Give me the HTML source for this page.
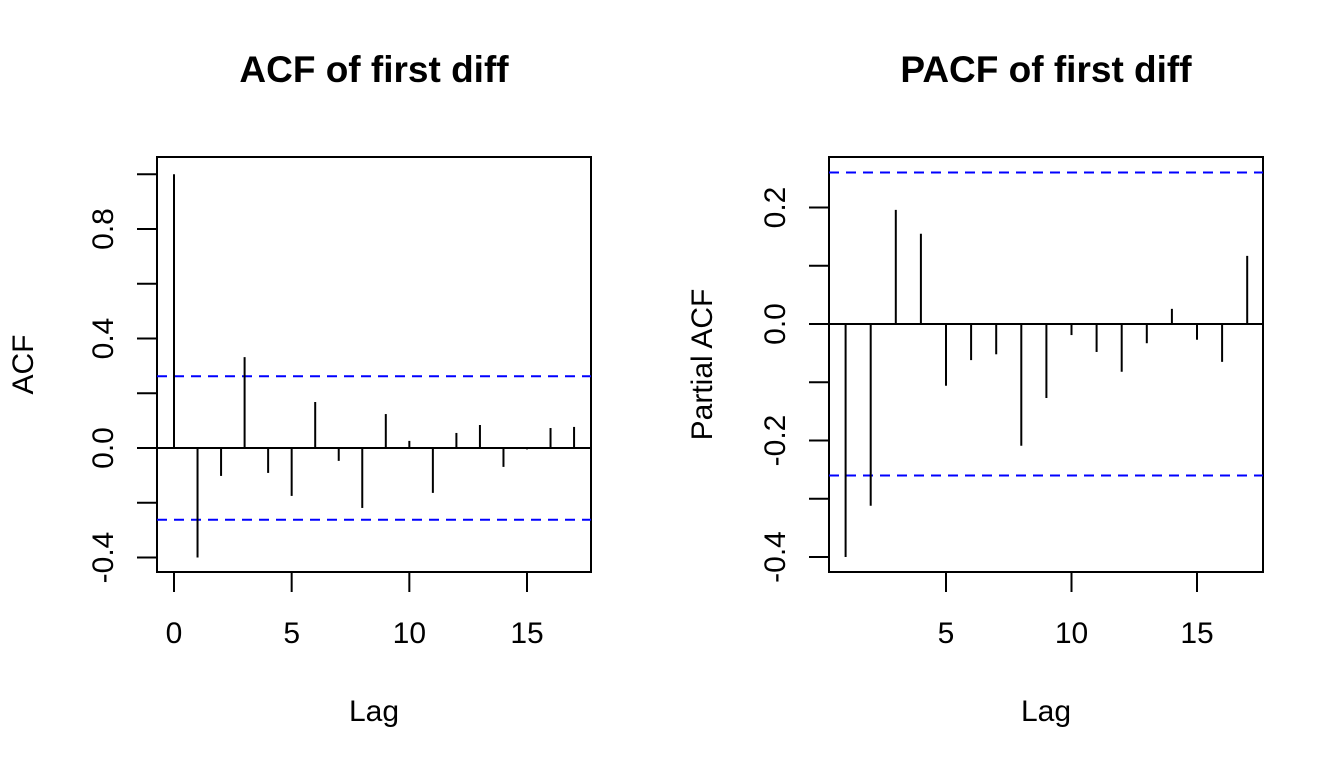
<!DOCTYPE html>
<html><head><meta charset="utf-8">
<style>
html,body{margin:0;padding:0;background:#fff;}
svg{display:block;font-family:"Liberation Sans",Arial,sans-serif;}
</style></head>
<body>
<svg id="chart" width="1344" height="768" viewBox="0 0 1344 768" xmlns="http://www.w3.org/2000/svg"></svg>
<script>
const acfLags = [0,1,2,3,4,5,6,7,8,9,10,11,12,13,14,15,16,17];
const acfValues = [1.0,-0.40,-0.102,0.332,-0.091,-0.175,0.168,-0.047,-0.219,0.124,0.026,-0.164,0.055,0.084,-0.069,-0.005,0.073,0.077];
const acfCI = 0.262;
const acfYTicks = [-0.4,-0.2,0.0,0.2,0.4,0.6,0.8,1.0];
const acfYTickLabels = ["-0.4","","0.0","","0.4","","0.8",""];
const acfXTicks = [0,5,10,15];

const pacfLags = [1,2,3,4,5,6,7,8,9,10,11,12,13,14,15,16,17];
const pacfValues = [-0.40,-0.312,0.196,0.155,-0.106,-0.062,-0.052,-0.209,-0.127,-0.019,-0.048,-0.082,-0.033,0.026,-0.027,-0.065,0.117];
const pacfCI = 0.26;
const pacfYTicks = [-0.4,-0.3,-0.2,-0.1,0.0,0.1,0.2];
const pacfYTickLabels = ["-0.4","","-0.2","","0.0","","0.2"];
const pacfXTicks = [5,10,15];

const svg = document.getElementById('chart');
const NS = 'http://www.w3.org/2000/svg';
function mk(tag, attrs, text){
  const e = document.createElementNS(NS, tag);
  for (const k in attrs) e.setAttribute(k, attrs[k]);
  if (text !== undefined) e.textContent = text;
  svg.appendChild(e);
  return e;
}
const SW = 2;

function panel(opt){
  const {box, x0v, x1v, x0p, x1p, y0v, y1v, y0p, y1p, lags, vals, ci, yt, ytl, xt, title, ylab, ylabX, prefix} = opt;
  const sx = v => x0p + (v - x0v) * (x1p - x0p) / (x1v - x0v);
  const sy = v => y0p + (v - y0v) * (y1p - y0p) / (y1v - y0v);
  let e;
  e = mk('rect', {x:box[0], y:box[1], width:box[2]-box[0], height:box[3]-box[1], fill:'none', stroke:'#000', 'stroke-width':SW});
  
  
  e = mk('text', {x:(box[0]+box[2])/2, y:82, 'text-anchor':'middle', 'font-size':37, 'font-weight':'bold'}, title);
  
  
  const xs = xt.map(sx);
  e = mk('line', {x1:xs[0], x2:xs[xs.length-1], y1:box[3], y2:box[3], stroke:'#000', 'stroke-width':SW});
  
  
  xt.forEach(t => {
    const x = sx(t);
    e = mk('line', {x1:x, x2:x, y1:box[3], y2:box[3]+20, stroke:'#000', 'stroke-width':SW});
    
    
    e = mk('text', {x:x, y:box[3]+71, 'text-anchor':'middle', 'font-size':30}, String(t));
    
    
  });
  e = mk('text', {x:(box[0]+box[2])/2, y:721, 'text-anchor':'middle', 'font-size':30}, 'Lag');
  
  
  e = mk('line', {x1:box[0], x2:box[0], y1:sy(yt[0]), y2:sy(yt[yt.length-1]), stroke:'#000', 'stroke-width':SW});
  
  
  yt.forEach((t,i) => {
    const y = sy(t);
    e = mk('line', {x1:box[0]-20, x2:box[0], y1:y, y2:y, stroke:'#000', 'stroke-width':SW});
    
    
    if (ytl[i]) {
      const lx = box[0]-44;
      e = mk('text', {x:lx, y:y, 'text-anchor':'middle', 'font-size':30, transform:`rotate(-90 ${lx} ${y})`}, ytl[i]);
      
      
    }
  });
  const yly = (box[1]+box[3])/2;
  e = mk('text', {x:ylabX, y:yly, 'text-anchor':'middle', 'font-size':30, transform:`rotate(-90 ${ylabX} ${yly})`}, ylab);
  
  
  e = mk('line', {x1:box[0], x2:box[2], y1:sy(0), y2:sy(0), stroke:'#000', 'stroke-width':SW});
  
  
  [ci, -ci].forEach(c => {
    e = mk('line', {x1:box[0], x2:box[2], y1:sy(c), y2:sy(c), stroke:'#0000ff', 'stroke-width':SW, 'stroke-dasharray':'10 7'});
    
    
  });
  lags.forEach((l,i) => {
    const x = sx(l);
    e = mk('line', {x1:x, x2:x, y1:sy(0), y2:sy(vals[i]), stroke:'#000', 'stroke-width':SW});
    
    
  });
}

panel({box:[157,157,591,572], x0v:0, x1v:15, x0p:174, x1p:527, y0v:0, y1v:0.4, y0p:448, y1p:338.5,
  lags:acfLags, vals:acfValues, ci:acfCI, yt:acfYTicks, ytl:acfYTickLabels, xt:acfXTicks,
  title:'ACF of first diff', ylab:'ACF', ylabX:33, prefix:'acf'});
panel({box:[829,157,1263,572], x0v:5, x1v:15, x0p:946, x1p:1197, y0v:0, y1v:0.2, y0p:324, y1p:207.5,
  lags:pacfLags, vals:pacfValues, ci:pacfCI, yt:pacfYTicks, ytl:pacfYTickLabels, xt:pacfXTicks,
  title:'PACF of first diff', ylab:'Partial ACF', ylabX:712, prefix:'pacf'});
</script>
</body></html>
